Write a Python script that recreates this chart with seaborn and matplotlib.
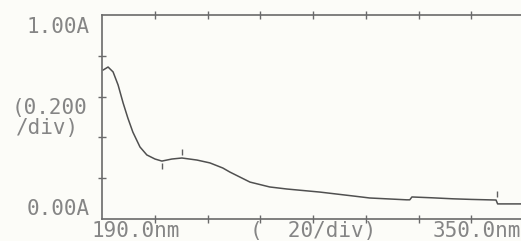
import numpy as np
import pandas as pd
import matplotlib
matplotlib.use("Agg")
import matplotlib.pyplot as plt
import seaborn as sns

# -----------------------------------
# Spectrum data
# -----------------------------------

wavelength = [190.4, 192.3, 194.2, 196.1, 198.0, 199.8, 201.7, 204.4, 207.0,
              210.1, 212.7, 216.5, 220.3, 226.0, 230.9, 235.8, 238.5, 246.1,
              253.6, 260.1, 272.6, 285.1, 291.5, 305.5, 306.7, 307.5, 315.0,
              323.0, 330.0, 339.4, 340.0, 349.0]

absorbance = [0.730, 0.745, 0.721, 0.657, 0.569, 0.495, 0.426, 0.353, 0.314,
              0.294, 0.284, 0.294, 0.299, 0.289, 0.275, 0.250, 0.230, 0.181,
              0.157, 0.147, 0.132, 0.113, 0.103, 0.094, 0.094, 0.108, 0.104,
              0.099, 0.096, 0.093, 0.074, 0.074]

# peak / valley markers printed by the instrument
mark_wl = [212.7, 220.3, 339.6]
mark_abs = [0.262, 0.330, 0.125]

x_ticks = [210, 230, 250, 270, 290, 310, 330, 350]
y_ticks = [0.2, 0.4, 0.6, 0.8]

df = pd.DataFrame({"wl": wavelength, "A": absorbance})

# -----------------------------------
# Figure
# -----------------------------------

sns.set_style("white")
plt.rcParams["font.family"] = ["DejaVu Sans Mono"]

bg = "#fcfcf8"
ink = "#6a6a6a"
txt = "#858585"

W, H = 521, 241
fig = plt.figure(figsize=(W / 100, H / 100), dpi=100, facecolor=bg)

ax = fig.add_axes([102 / W, 22 / H, 422 / W, 204 / H])
ax.set_facecolor(bg)

sns.lineplot(
    data=df,
    x="wl",
    y="A",
    ax=ax,
    color="#505050",
    linewidth=1.1,
    sort=False,
    estimator=None
)

ax.plot(mark_wl, mark_abs, linestyle="none", marker="|",
        markersize=4, color="#606060", markeredgewidth=1)

ax.set_xlim(190, 350)
ax.set_ylim(0, 1)

ax.set_xticks(x_ticks)
ax.set_yticks(y_ticks)
ax.set_xticklabels([])
ax.set_yticklabels([])
ax.set_xlabel("")
ax.set_ylabel("")

ax.tick_params(axis="both", direction="inout", length=6, width=1,
               color=ink, top=True, bottom=True, left=True, right=False)

for side in ["top", "bottom", "left"]:
    ax.spines[side].set_color(ink)
    ax.spines[side].set_linewidth(1.2)
ax.spines["right"].set_visible(False)

# -----------------------------------
# Instrument labels
# -----------------------------------

fs = 15

def put(x, y, s, ha="left"):
    fig.text(x / W, 1 - y / H, s, ha=ha, va="center",
             fontsize=fs, color=txt)

put(90, 27, "1.00A", ha="right")
put(50, 108, "(0.200", ha="center")
put(48, 128, "/div)", ha="center")
put(90, 209, "0.00A", ha="right")
put(91, 231, "190.0nm")
put(250, 231, "(  20/div)")
put(433, 231, "350.0nm")

plt.savefig("out.png", dpi=100, facecolor=bg)
plt.close()
